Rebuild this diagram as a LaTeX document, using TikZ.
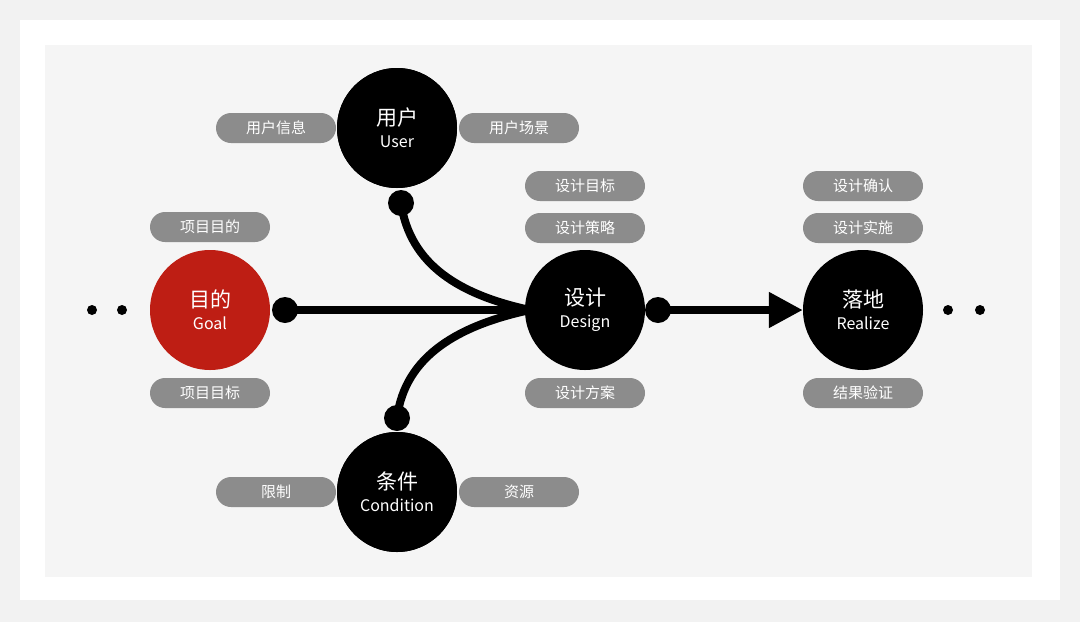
\documentclass[tikz,border=0pt]{standalone}
\usepackage{fontspec}
\setmainfont{Noto Sans CJK SC}
\usetikzlibrary{arrows.meta}
\definecolor{pillgray}{HTML}{8C8C8C}
\definecolor{goalred}{HTML}{BE1E14}
\tikzset{
  stage/.style={circle, fill=black, minimum size=120pt, inner sep=0pt, text=white, align=center, font=\fontsize{21pt}{24pt}\selectfont},
  pill/.style={rounded corners=15pt, fill=pillgray, minimum width=120pt, minimum height=30pt, inner sep=0pt, text=white, font=\fontsize{15pt}{17pt}\selectfont},
  joint/.style={circle, fill=black, minimum size=26pt, inner sep=0pt},
  more/.style={circle, fill=black, minimum size=10pt, inner sep=0pt},
  flow/.style={line width=8pt, black}
}
\newcommand{\eng}[1]{\\[-2pt]{\fontsize{16pt}{18pt}\selectfont #1}}
\begin{document}
\begin{tikzpicture}[x=1pt,y=-1pt]
  %background
  \fill[black!5] (0,0) rectangle (1080,622);
  \fill[white] (20,20) rectangle (1060,600);
  \fill[black!4] (45,45) rectangle (1032,577);

  %stages
  \node[stage, fill=goalred] (goal) at (210,310) {目的\eng{Goal}};
  \node[stage] (user) at (397,128) {用户\eng{User}};
  \node[stage] (design) at (585,310) {设计\eng{Design}};
  \node[stage] (realize) at (863,310) {落地\eng{Realize}};
  \node[stage] (cond) at (397,492) {条件\eng{Condition}};

  %joints
  \node[joint] (goalj) at (285,310) {};
  \node[joint] (userj) at (401,203) {};
  \node[joint] (condj) at (397,418) {};
  \node[joint] (designj) at (658,310) {};
  \coordinate (merge) at (530,310);

  %connectors
  \draw[flow] (goalj.center) -- (merge);
  \draw[flow] (userj.center) .. controls (410,265) and (460,295) .. (merge);
  \draw[flow] (condj.center) .. controls (405,355) and (460,325) .. (merge);
  \draw[flow, -{Triangle[length=34pt,width=34pt]}] (designj.center) -- (realize.west);

  %ellipsis
  \node[more] (l1) at (92,310) {};
  \node[more] (l2) at (122,310) {};
  \node[more] (r1) at (948,310) {};
  \node[more] (r2) at (980,310) {};

  %labels
  \node[pill] (g1) at (210,227) {项目目的};
  \node[pill] (g2) at (210,393) {项目目标};
  \node[pill] (u1) at (276,128) {用户信息};
  \node[pill] (u2) at (519,128) {用户场景};
  \node[pill] (d1) at (585,186) {设计目标};
  \node[pill] (d2) at (585,228) {设计策略};
  \node[pill] (d3) at (585,393) {设计方案};
  \node[pill] (r3) at (863,186) {设计确认};
  \node[pill] (r4) at (863,228) {设计实施};
  \node[pill] (r5) at (863,393) {结果验证};
  \node[pill] (c1) at (276,492) {限制};
  \node[pill] (c2) at (519,492) {资源};

  %circles over pills
  \node[stage] at (user) {用户\eng{User}};
  \node[stage] at (cond) {条件\eng{Condition}};
\end{tikzpicture}
\end{document}
